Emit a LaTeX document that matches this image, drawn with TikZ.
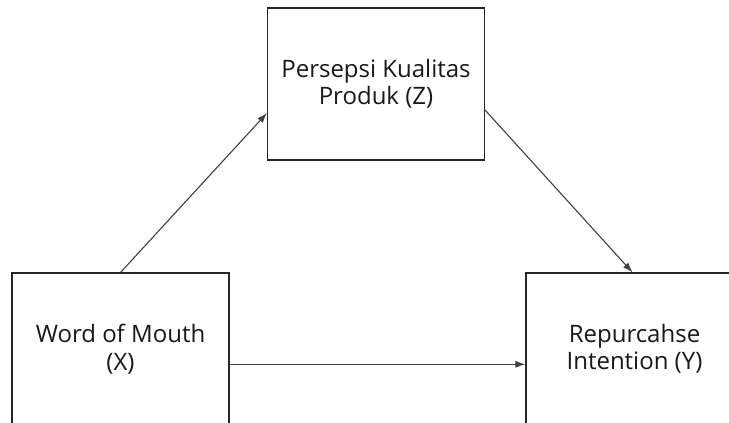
\documentclass[tikz,border=0pt]{standalone}
\usepackage{fontspec}
\setmainfont{Open Sans}
\usetikzlibrary{arrows.meta,calc}
\tikzset{
  varbox/.style={draw=black!85, line width=1.1pt, minimum width=217pt, minimum height=152pt,
    inner sep=0pt, align=center, font=\fontsize{24}{27.5}\selectfont, text=black!90},
  link/.style={draw=black!75, line width=1.1pt, -{Latex[length=10pt,width=7pt]}}
}
\begin{document}
\begin{tikzpicture}[x=1pt,y=-1pt]
\clip (0,0) rectangle (729,423);
\fill[white] (0,0) rectangle (729,423);
\node[varbox] (pk) at (376,84) {Persepsi Kualitas\\Produk (Z)};
\node[varbox] (wom) at (120.5,349) {Word of Mouth\\(X)};
\node[varbox] (rep) at (634.5,349) {Repurcahse\\Intention (Y)};
\coordinate (pkin) at ($(pk.north west)!0.69!(pk.south west)$);
\coordinate (pkout) at ($(pk.north east)!0.67!(pk.south east)$);
\coordinate (womout) at ($(wom.north east)!0.6!(wom.south east)$);
\coordinate (repin) at ($(rep.north west)!0.6!(rep.south west)$);
\coordinate (reptop) at ($(rep.north)+(-2,0)$);
\draw[link] (wom.north) -- (pkin);
\draw[link] (pkout) -- (reptop);
\draw[link] (womout) -- (repin);
\end{tikzpicture}
\end{document}
